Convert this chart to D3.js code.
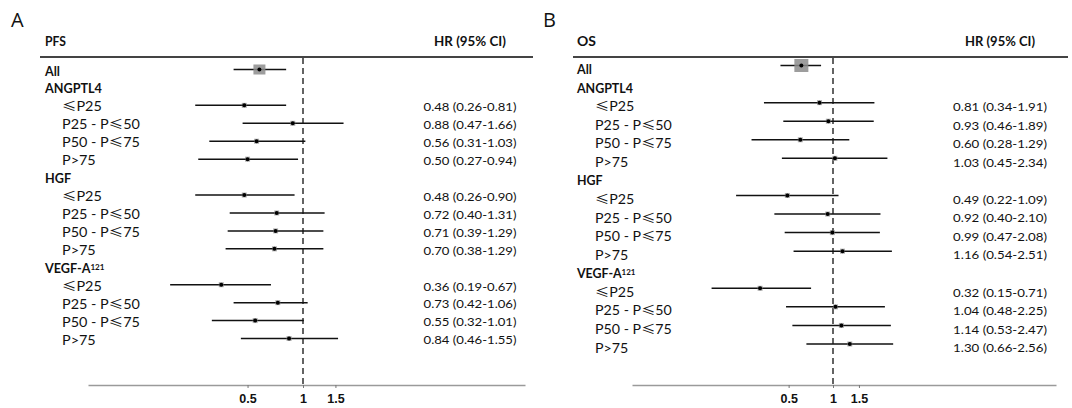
<!DOCTYPE html>
<html>
<head>
<meta charset="utf-8">
<script src="https://cdn.jsdelivr.net/npm/d3@7"></script>
<style>
  body { margin: 0; background: #fff; }
  text { font-family: Lato, "Noto Sans", sans-serif; fill: #111; }
  .cjk { font-family: "Noto Sans CJK SC", sans-serif; }
</style>
</head>
<body>
<div id="chart"></div>
<script>
// rows of the table
var overallLabel = "All";
var groupNames = ["ANGPTL4", "HGF", "VEGF-A"];
var groupSup = ["", "", "121"];
var subNames = ["≤P25", "P25 - P≤50", "P50 - P≤75", "P>75"];
var tickValues = [0.5, 1, 1.5];

// PFS (panel A): All, then 4 levels for each marker
var pfsHR = [0.58, 0.48, 0.88, 0.56, 0.50, 0.48, 0.72, 0.71, 0.70, 0.36, 0.73, 0.55, 0.84];
var pfsLo = [0.42, 0.26, 0.47, 0.31, 0.27, 0.26, 0.40, 0.39, 0.38, 0.19, 0.42, 0.32, 0.46];
var pfsHi = [0.81, 0.81, 1.66, 1.03, 0.94, 0.90, 1.31, 1.29, 1.29, 0.67, 1.06, 1.01, 1.55];

// OS (panel B)
var osHR = [0.61, 0.81, 0.93, 0.60, 1.03, 0.49, 0.92, 0.99, 1.16, 0.32, 1.04, 1.14, 1.30];
var osLo = [0.44, 0.34, 0.46, 0.28, 0.45, 0.22, 0.40, 0.47, 0.54, 0.15, 0.48, 0.53, 0.66];
var osHi = [0.83, 1.91, 1.89, 1.29, 2.34, 1.09, 2.10, 2.08, 2.51, 0.71, 2.25, 2.47, 2.56];

var width = 1072, height = 408;
var svg = d3.select("#chart").append("svg").attr("width", width).attr("height", height);

// build row list, data index goes with "all" and "sub" rows
var rows = [{ label: overallLabel, kind: "all", d: 0 }];
var di = 1;
groupNames.forEach(function (gname, gi) {
  rows.push({ label: gname, sup: groupSup[gi], kind: "group" });
  subNames.forEach(function (s) { rows.push({ label: s, kind: "sub", d: di++ }); });
});

var fmt = d3.format(".2f");

// squeeze text horizontally so the sample node gets the target width (Calibri is narrow)
function squeeze(sel, sampleNode, target) {
  var f = target / sampleNode.getComputedTextLength();
  sel.each(function () {
    var t = d3.select(this);
    var x = +t.attr("x"), y = +t.attr("y");
    t.attr("x", 0).attr("y", 0).attr("transform", "translate(" + x + "," + y + ") scale(" + f + ",1)");
  });
}

function panel(p) {
  var g = svg.append("g");
  var x = d3.scaleLog()
    .domain([Math.exp((p.axisX0 - p.oneX) / p.k), Math.exp((p.axisX1 - p.oneX) / p.k)])
    .range([p.axisX0, p.axisX1]);
  var y = d3.scalePoint().domain(d3.range(rows.length)).range([p.rowTop, p.rowBottom]);

  g.append("text").attr("x", p.letterX).attr("y", 27).style("font-size", "20px")
    .style("font-family", "'Open Sans', sans-serif").text(p.letter);
  var title = g.append("text").attr("x", p.groupX).attr("y", 46).style("font-size", "12.5px")
    .style("font-weight", "bold").text(p.title);
  var head = g.append("text").attr("x", p.valueX).attr("y", 46).attr("text-anchor", "middle")
    .style("font-size", "12.5px").style("font-weight", "bold").text("HR (95% CI)");
  g.append("line").attr("x1", p.lineX0).attr("x2", p.lineX1).attr("y1", 57).attr("y2", 57)
    .attr("stroke", "#444").attr("stroke-width", 2);

  // labels
  rows.forEach(function (r, i) {
    var t = g.append("text").attr("y", y(i)).attr("dy", "0.36em").style("font-size", "12.5px");
    if (r.kind === "sub") {
      t.attr("x", p.subX).attr("class", "sublab");
      r.label.split(/(≤)/).forEach(function (part) {
        if (!part) return;
        var ts = t.append("tspan").text(part);
        if (part === "≤") ts.attr("class", "cjk");
      });
    } else {
      t.attr("x", p.groupX).attr("class", "grplab").style("font-weight", "bold").text(r.label);
      if (r.sup) t.append("tspan").attr("dy", "-0.4em").style("font-size", "8px").text(r.sup);
    }
    if (r.kind === "sub") {
      g.append("text").attr("class", "val").attr("x", p.valueX).attr("y", y(i)).attr("dy", "0.36em")
        .attr("text-anchor", "middle").style("font-size", "12px")
        .text(fmt(p.hr[r.d]) + " (" + fmt(p.lo[r.d]) + "-" + fmt(p.hi[r.d]) + ")");
    }
  });

  var subs = g.selectAll("text.sublab");
  squeeze(subs, subs.nodes()[1], p.subW);
  var grps = g.selectAll("text.grplab");
  squeeze(grps, grps.nodes()[1], p.grpW);
  grps.filter(function (d, i) { return i === 0; }).attr("transform", null).attr("x", p.groupX).attr("y", y(0));
  var vals = g.selectAll("text.val");
  squeeze(vals, vals.nodes()[0], p.valW);
  squeeze(head, head.node(), p.headW);
  squeeze(title, title.node(), p.titleW);

  // axis
  var ax = g.append("g").attr("transform", "translate(0," + p.axisY + ")")
    .call(d3.axisBottom(x).tickValues(tickValues).tickFormat(function (d) { return d; })
      .tickSize(3).tickSizeOuter(0).tickPadding(6));
  ax.select(".domain").attr("stroke", "#9a9a9a").attr("stroke-width", 1.6);
  ax.selectAll(".tick line").attr("stroke", "#777");
  ax.selectAll(".tick text").style("font-family", "'Liberation Sans', Arial, sans-serif")
    .style("font-size", "12.5px").style("font-weight", "bold").attr("fill", "#222");

  // reference line at HR = 1
  g.append("line").attr("x1", x(1)).attr("x2", x(1)).attr("y1", 58).attr("y2", p.axisY)
    .attr("stroke", "#222").attr("stroke-width", 1.4).attr("stroke-dasharray", "6,4");

  var marks = rows.filter(function (r) { return r.kind !== "group"; });
  var mg = g.append("g");
  marks.forEach(function (r) {
    var i = rows.indexOf(r);
    var cy = y(i) + p.markDy;
    mg.append("line").attr("x1", x(p.lo[r.d])).attr("x2", x(p.hi[r.d]))
      .attr("y1", cy).attr("y2", cy).attr("stroke", "#111").attr("stroke-width", 1.5);
    var s = r.kind === "all" ? p.allBox : 5;
    var h = r.kind === "all" ? p.allBoxH : s;
    mg.append("rect").attr("x", x(p.hr[r.d]) - s / 2).attr("y", cy - h / 2)
      .attr("width", s).attr("height", h)
      .attr("fill", "#8c8c8c").attr("opacity", r.kind === "all" ? 0.85 : 0.7);
    mg.append("circle").attr("cx", x(p.hr[r.d])).attr("cy", cy).attr("r", 2).attr("fill", "#000");
  });
}

panel({
  letter: "A", letterX: 11, title: "PFS", groupX: 45, subX: 62, valueX: 470,
  lineX0: 40, lineX1: 533, axisX0: 88, axisX1: 525, axisY: 385, oneX: 303, k: 80,
  rowTop: 71, rowBottom: 340, markDy: -1.5, allBox: 12, allBoxH: 10,
  subW: 78, grpW: 57, valW: 93, headW: 72, titleW: 21,
  hr: pfsHR, lo: pfsLo, hi: pfsHi
});

panel({
  letter: "B", letterX: 543, title: "OS", groupX: 577, subX: 595, valueX: 1000,
  lineX0: 573, lineX1: 1068, axisX0: 632, axisX1: 1056, axisY: 385, oneX: 833, k: 64,
  rowTop: 69.5, rowBottom: 348, markDy: -4, allBox: 14, allBoxH: 13,
  subW: 77, grpW: 56, valW: 94, headW: 70, titleW: 19,
  hr: osHR, lo: osLo, hi: osHi
});
</script>
</body>
</html>
